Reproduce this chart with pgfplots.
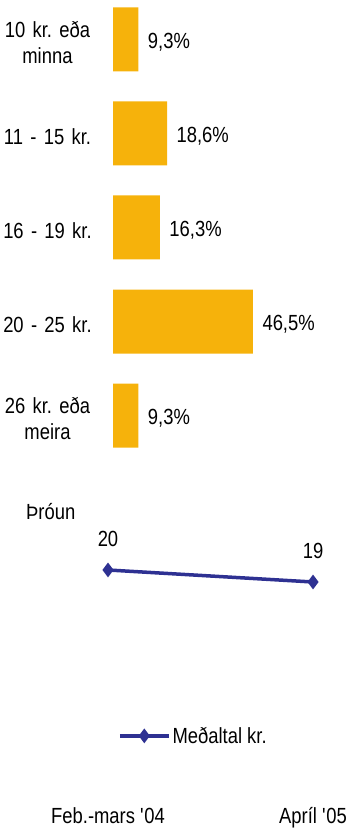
\documentclass[border=0pt]{standalone}
\usepackage{fontspec}
\setmainfont{Liberation Sans}[FakeStretch=0.84]
\usepackage{pgfplots}
\pgfplotsset{compat=1.18}
\frenchspacing
\definecolor{barc}{HTML}{F6B20B}
\definecolor{linec}{HTML}{2E3192}
\newcommand{\cf}{\fontsize{22}{27}\selectfont}
\begin{document}
\begin{tikzpicture}
\path[use as bounding box] (0,0) rectangle (349bp,829bp);
\begin{axis}[at={(113bp,374bp)}, anchor=south west, scale only axis,
  width=200bp, height=455bp,
  xbar, bar width=64bp,
  xmin=1.05, xmax=65.98, ymin=-0.42, ymax=4.42, y dir=reverse,
  axis line style={draw=none}, major tick length=0pt,
  xtick=\empty, ytick={0,1,2,3,4},
  yticklabels={{10 kr. eða\\minna},{11 - 15 kr.},{16 - 19 kr.},{20 - 25 kr.},{26 kr. eða\\meira}},
  yticklabel style={font=\cf, align=center, text width=100bp, xshift=-12bp, yshift=-3bp},
  /pgf/number format/assume math mode=true,
  nodes near coords={\pgfmathprintnumber[fixed,precision=1,fixed zerofill,use comma]{\pgfplotspointmeta}\%},
  nodes near coords style={font=\cf, anchor=west, xshift=6bp, yshift=-2.5bp},
  clip=false]
\addplot[fill=barc, draw=none] coordinates {(9.3,0) (18.6,1) (16.3,2) (46.5,3) (9.3,4)};
\end{axis}
\node[anchor=west, inner sep=0pt, font=\cf] at (26bp,317bp) {Þróun};
\begin{axis}[at={(46.5bp,19bp)}, anchor=south west, scale only axis,
  width=297.25bp, height=300bp,
  xmin=-0.3, xmax=1.15, ymin=0, ymax=25,
  axis line style={draw=none}, major tick length=0pt,
  xtick={0,1}, xticklabels={Feb.-mars \textquotesingle04, Apríl \textquotesingle05},
  xticklabel style={font=\cf, yshift=6bp},
  ytick=\empty,
  /pgf/number format/assume math mode=true,
  legend style={draw=none, fill=none, at={(0.23,0.247)}, anchor=west, font=\cf,
    legend cell align=left,
    /tikz/every even column/.append style={column sep=0pt}},
  legend image code/.code={\draw[#1,mark repeat=2,mark phase=2] plot coordinates {(0bp,0bp) (24.5bp,0bp) (49bp,0bp)};},
  clip=false]
\addplot[linec, line width=3.5bp, mark=diamond*, mark size=4.5bp,
  nodes near coords, nodes near coords style={font=\cf, anchor=south, yshift=18bp, text=black}]
  coordinates {(0,20) (1,19)};
\legend{Meðaltal kr.}
\end{axis}
\end{tikzpicture}
\end{document}
